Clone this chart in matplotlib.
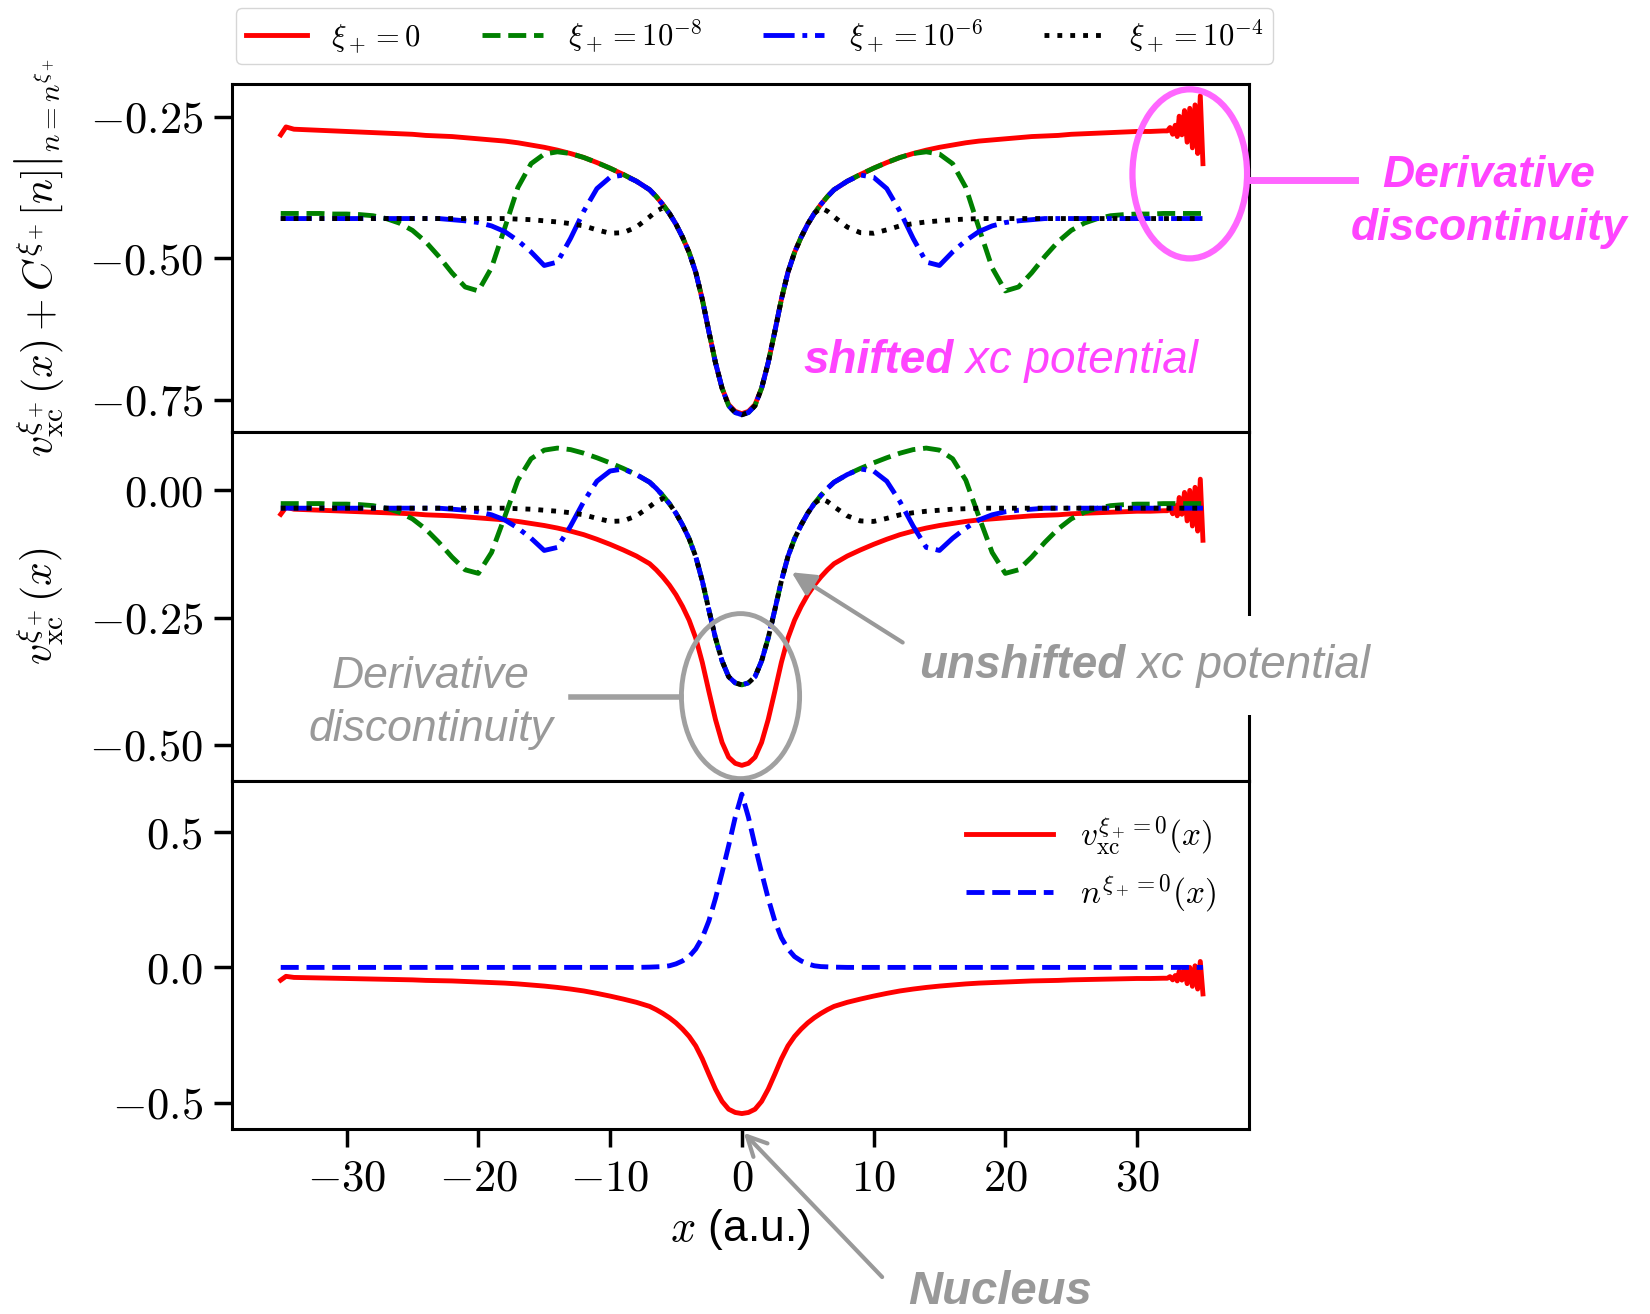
import numpy as np
import matplotlib
matplotlib.use('Agg')
import matplotlib.pyplot as plt
from matplotlib.patches import Ellipse
from matplotlib.lines import Line2D

plt.rcParams['mathtext.fontset'] = 'cm'
plt.rcParams['font.family'] = ['Liberation Sans', 'DejaVu Sans']

# ---- data ----
# common x grid (a.u.) for the xi_+ > 0 curves and the density
x = np.r_[-35:-6, -6.5:7:0.5, 7:36].astype(float)

# unshifted xc potentials v_xc^{xi_+}(x)
v_1e8 = [-0.026, -0.026, -0.026, -0.026, -0.027, -0.027, -0.028, -0.030, -0.035, -0.043,
         -0.056, -0.076, -0.102, -0.131, -0.156, -0.163, -0.122, -0.052, 0.020, 0.062,
         0.079, 0.083, 0.080, 0.073, 0.064, 0.054, 0.043, 0.031, 0.016,
         0.004, -0.010, -0.026, -0.045, -0.068, -0.095, -0.130, -0.178, -0.235, -0.290,
         -0.335, -0.366, -0.378, -0.382, -0.378, -0.366, -0.335, -0.290, -0.235, -0.178,
         -0.130, -0.095, -0.068, -0.045, -0.026, -0.010, 0.004,
         0.016, 0.031, 0.043, 0.054, 0.064, 0.073, 0.080, 0.083, 0.079, 0.062,
         0.020, -0.052, -0.122, -0.163, -0.156, -0.131, -0.102, -0.076, -0.056, -0.043,
         -0.035, -0.030, -0.028, -0.027, -0.027, -0.026, -0.026, -0.026, -0.026]

v_1e6 = [-0.035, -0.035, -0.035, -0.035, -0.035, -0.035, -0.035, -0.035, -0.035, -0.035,
         -0.035, -0.035, -0.035, -0.037, -0.039, -0.042, -0.048, -0.058, -0.074, -0.094,
         -0.118, -0.112, -0.070, -0.022, 0.018, 0.038, 0.042, 0.031, 0.016,
         0.004, -0.010, -0.026, -0.045, -0.068, -0.095, -0.130, -0.178, -0.235, -0.290,
         -0.335, -0.366, -0.378, -0.382, -0.378, -0.366, -0.335, -0.290, -0.235, -0.178,
         -0.130, -0.095, -0.068, -0.045, -0.026, -0.010, 0.004,
         0.016, 0.031, 0.042, 0.038, 0.018, -0.022, -0.070, -0.112, -0.118, -0.094,
         -0.074, -0.058, -0.048, -0.042, -0.039, -0.037, -0.035, -0.035, -0.035, -0.035,
         -0.035, -0.035, -0.035, -0.035, -0.035, -0.035, -0.035, -0.035, -0.035]

v_1e4 = [-0.035, -0.035, -0.035, -0.035, -0.035, -0.035, -0.035, -0.035, -0.035, -0.035,
         -0.035, -0.035, -0.035, -0.035, -0.035, -0.035, -0.035, -0.035, -0.036, -0.037,
         -0.039, -0.041, -0.044, -0.048, -0.055, -0.061, -0.060, -0.050, -0.032,
         -0.022, -0.016, -0.026, -0.045, -0.068, -0.095, -0.130, -0.178, -0.235, -0.290,
         -0.335, -0.366, -0.378, -0.382, -0.378, -0.366, -0.335, -0.290, -0.235, -0.178,
         -0.130, -0.095, -0.068, -0.045, -0.026, -0.016, -0.022,
         -0.032, -0.050, -0.060, -0.061, -0.055, -0.048, -0.044, -0.041, -0.039, -0.037,
         -0.036, -0.035, -0.035, -0.035, -0.035, -0.035, -0.035, -0.035, -0.035, -0.035,
         -0.035, -0.035, -0.035, -0.035, -0.035, -0.035, -0.035, -0.035, -0.035]

# xi_+ = 0 potential has its own grid (wiggle at the left end, oscillations at the right end)
x_0 = np.r_[-35, -34.6, -34:-6, -6.5:7:0.5, 7:33,
            32.3, 32.5, 32.7, 32.9, 33.05, 33.2, 33.4, 33.6, 33.8, 34.0, 34.2, 34.4, 34.6, 34.8, 35.0]
v_0 = [-0.047, -0.033,
       -0.037, -0.038, -0.039, -0.040, -0.041, -0.042, -0.043, -0.044, -0.045, -0.046,
       -0.048, -0.049, -0.050, -0.052, -0.054, -0.056, -0.058, -0.061, -0.065, -0.069,
       -0.074, -0.080, -0.087, -0.096, -0.106, -0.117, -0.129, -0.144,
       -0.156, -0.170, -0.186, -0.205, -0.228, -0.255, -0.290, -0.338, -0.395, -0.450,
       -0.495, -0.524, -0.536, -0.540, -0.536, -0.524, -0.495, -0.450, -0.395, -0.338,
       -0.290, -0.255, -0.228, -0.205, -0.186, -0.170, -0.156,
       -0.144, -0.129, -0.117, -0.106, -0.096, -0.087, -0.080, -0.074, -0.069, -0.065,
       -0.061, -0.058, -0.056, -0.054, -0.052, -0.050, -0.049, -0.048, -0.046, -0.045,
       -0.044, -0.043, -0.042, -0.041, -0.041, -0.040,
       -0.040, -0.034, -0.046, -0.030, -0.050, -0.014, -0.047, -0.004, -0.060, 0.000,
       -0.070, 0.006, -0.080, 0.022, -0.098]

# constant shifts C^{xi_+}[n] for xi_+ = 0, 1e-8, 1e-6, 1e-4
shifts = [-0.235, -0.395, -0.395, -0.395]

# ground-state density n^{xi_+=0}(x)
n_0 = [0.0] * 28 + [0.001,
       0.002, 0.003, 0.006, 0.013, 0.024, 0.040, 0.068, 0.110, 0.172, 0.255,
       0.350, 0.450, 0.555, 0.640, 0.555, 0.450, 0.350, 0.255, 0.172, 0.110,
       0.068, 0.040, 0.024, 0.013, 0.006, 0.003, 0.002,
       0.001] + [0.0] * 28

labels = [r'$\xi_+=0$', r'$\xi_+=10^{-8}$', r'$\xi_+=10^{-6}$', r'$\xi_+=10^{-4}$']
xticks = [-30, -20, -10, 0, 10, 20, 30]
yticks1 = [-0.75, -0.50, -0.25]
yticks2 = [-0.50, -0.25, 0.00]
yticks3 = [-0.5, 0.0, 0.5]

v_0, v_1e8, v_1e6, v_1e4, n_0 = map(np.array, (v_0, v_1e8, v_1e6, v_1e4, n_0))

# ---- figure ----
fig = plt.figure(figsize=(16.5, 13.14), dpi=100)
gs = fig.add_gridspec(3, 1, left=0.1406, right=0.757, top=0.9361, bottom=0.1408, hspace=0)
ax1 = fig.add_subplot(gs[0])
ax2 = fig.add_subplot(gs[1], sharex=ax1)
ax3 = fig.add_subplot(gs[2], sharex=ax1)

lw = 3.5
# shifted potentials
ax1.plot(x_0, v_0 + shifts[0], color='red', lw=lw, label=labels[0])
ax1.plot(x, v_1e8 + shifts[1], color='green', ls='--', lw=lw, label=labels[1])
ax1.plot(x, v_1e6 + shifts[2], color='blue', ls='-.', lw=lw, label=labels[2])
ax1.plot(x, v_1e4 + shifts[3], color='black', ls=':', lw=lw, label=labels[3])

# unshifted potentials
ax2.plot(x_0, v_0, color='red', lw=lw)
ax2.plot(x, v_1e8, color='green', ls='--', lw=lw)
ax2.plot(x, v_1e6, color='blue', ls='-.', lw=lw)
ax2.plot(x, v_1e4, color='black', ls=':', lw=lw)

# potential and density at xi_+ = 0
ax3.plot(x_0, v_0, color='red', lw=lw, label=r'$v_{\rm xc}^{\xi_+=0}(x)$')
ax3.plot(x, n_0, color='blue', ls='--', lw=lw, label=r'$n^{\xi_+=0}(x)$')

ax1.set_ylim(-0.808, -0.192)
ax2.set_ylim(-0.570, 0.114)
ax3.set_ylim(-0.597, 0.690)
ax3.set_xlim(-38.7, 38.5)

for ax, yt in zip((ax1, ax2, ax3), (yticks1, yticks2, yticks3)):
    ax.set_yticks(yt)
    fmt = '{:.2f}' if ax is not ax3 else '{:.1f}'
    ax.set_yticklabels(['$' + fmt.format(v) + '$' for v in yt])
    ax.tick_params(axis='both', direction='out', length=13, width=2.5, labelsize=32, pad=8)
    for s in ax.spines.values():
        s.set_linewidth(2.2)
for ax in (ax1, ax2):
    ax.tick_params(axis='x', bottom=False, labelbottom=False)
ax3.set_xticks(xticks)
ax3.set_xticklabels(['$%d$' % v for v in xticks])

ax1.set_ylabel(r'$\left.v_{\rm xc}^{\xi_+}(x)+C^{\xi_+}[n]\right|_{n=n^{\xi_+}}$', fontsize=30)
ax2.set_ylabel(r'$v_{\rm xc}^{\xi_+}(x)$', fontsize=30)
ax1.yaxis.set_label_coords(-0.163, 0.5)
ax2.yaxis.set_label_coords(-0.163, 0.5)
ax3.set_xlabel(r'$x$ (a.u.)', fontsize=32, labelpad=6)

ax1.legend(loc='upper center', bbox_to_anchor=(0.514, 1.218), ncol=4, fontsize=22,
           borderaxespad=0, borderpad=0.3, handlelength=2.0, handletextpad=0.8,
           columnspacing=2.0, frameon=True, edgecolor='#cccccc', fancybox=True)
ax3.legend(loc='upper right', fontsize=24, frameon=False, handlelength=2.6,
           borderaxespad=0.6)

# ---- annotations ----
mag = '#ff44ff'
mag_light = '#ff66ff'
grey = '#999999'

ax1.add_patch(Ellipse((34.0, -0.351), 8.7, 0.299, fill=False, ec=mag_light, lw=4.5,
                      zorder=6, clip_on=False))
fig.add_artist(Line2D([0.757, 0.8212], [0.863, 0.863], color=mag_light, lw=5))
fig.text(0.9024, 0.8463, 'Derivative\ndiscontinuity', color=mag, fontsize=32,
         fontweight='bold', fontstyle='italic', ha='center', va='center',
         multialignment='center', linespacing=1.35)

t1 = fig.text(0.4867, 0.7253, 'shifted', color=mag, fontsize=33, fontweight='bold',
              fontstyle='italic', ha='left', va='center')
ax1.annotate(' xc potential', xy=(1, 0), xycoords=t1, va='bottom', ha='left',
             color=mag, fontsize=33, fontstyle='italic')

ax2.add_patch(Ellipse((-0.1, -0.404), 8.97, 0.324, fill=False, ec='#a0a0a0', lw=3.5,
                      zorder=6, clip_on=False))
ax2.add_line(Line2D([-13.0, -4.6], [-0.406, -0.406], color='#a0a0a0', lw=4,
                    zorder=6, clip_on=False))
fig.text(0.2612, 0.465, 'Derivative\ndiscontinuity', color=grey, fontsize=32,
         fontstyle='italic', ha='center', va='center', multialignment='center',
         linespacing=1.35)

t2 = fig.text(0.557, 0.4932, 'unshifted', color=grey, fontsize=33, fontweight='bold',
              fontstyle='italic', ha='left', va='center', zorder=8)
ax2.annotate(' xc potential', xy=(1, 0), xycoords=t2, va='bottom', ha='left',
             color=grey, fontsize=33, fontstyle='italic', zorder=7,
             bbox=dict(boxstyle='square,pad=0.6', fc='white', ec='none'))
ax2.annotate('', xy=(3.6, -0.158), xycoords='data', xytext=(0.5485, 0.5099),
             textcoords='figure fraction',
             arrowprops=dict(arrowstyle='-|>', color=grey, lw=3, mutation_scale=35))

ax3.annotate('', xy=(0, -0.005), xycoords=('data', 'axes fraction'),
             xytext=(0.5358, 0.0266), textcoords='figure fraction',
             arrowprops=dict(arrowstyle='->', color=grey, lw=3, mutation_scale=35),
             annotation_clip=False)
fig.text(0.606, 0.0167, 'Nucleus', color=grey, fontsize=34, fontweight='bold',
         fontstyle='italic', ha='center', va='center')

fig.savefig('out.png', dpi=100)
